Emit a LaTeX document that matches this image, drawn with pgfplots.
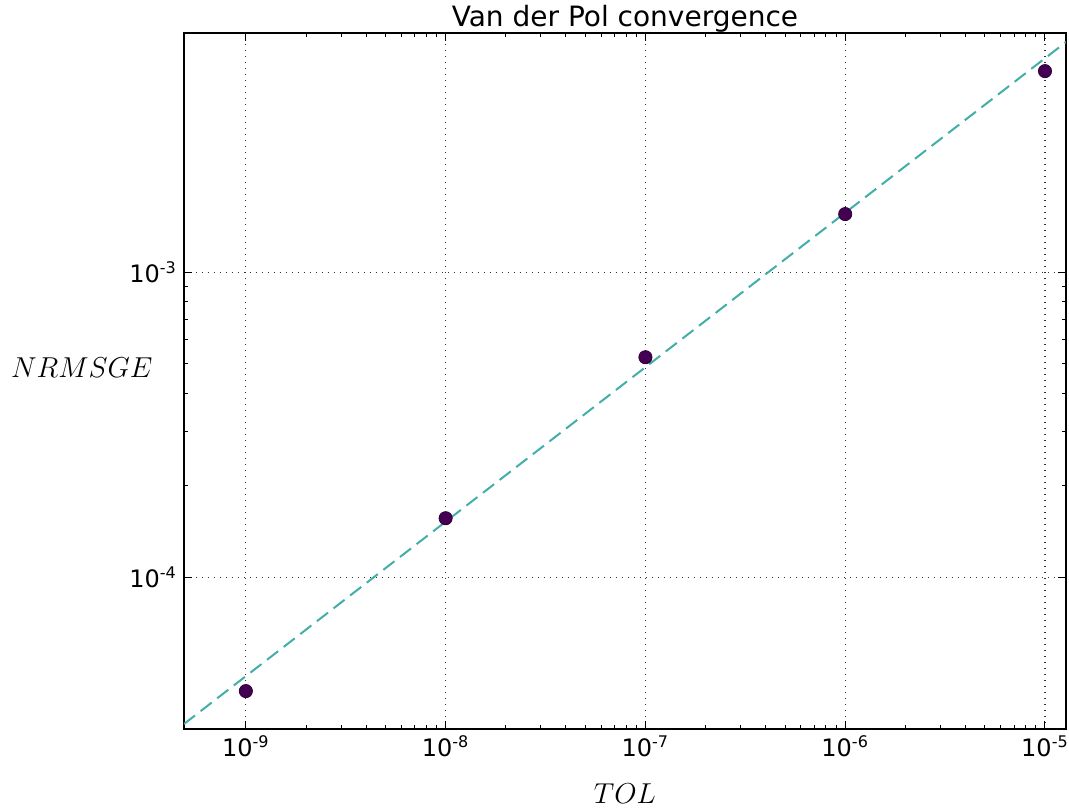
\documentclass[border=0pt]{standalone}
\usepackage{fontspec}
\setmainfont{DejaVu Sans}
\usepackage{pgfplots}
\pgfplotsset{compat=1.18}
\definecolor{pts}{RGB}{68,1,84}
\definecolor{fitc}{RGB}{66,174,168}
\begin{document}
\begin{tikzpicture}
\begin{axis}[
  scale only axis,
  width=441pt, height=348pt,
  xmode=log, ymode=log,
  xmin=4.9e-10, xmax=1.274e-5,
  ymin=3.177e-5, ymax=6.08e-3,
  axis line style={line width=1pt},
  tick align=inside,
  major tick length=4pt, minor tick length=2.2pt,
  every tick/.style={black, line width=0.5pt},
  xtick={1e-9,1e-8,1e-7,1e-6,1e-5},
  xticklabels={10\textsuperscript{-9},10\textsuperscript{-8},10\textsuperscript{-7},10\textsuperscript{-6},10\textsuperscript{-5}},
  ytick={1e-4,1e-3},
  yticklabels={10\textsuperscript{-4},10\textsuperscript{-3}},
  ticklabel style={font=\fontsize{12}{14}\selectfont},
  grid=major,
  major grid style={black!80, line width=0.6pt, dash pattern=on 0.6pt off 2.4pt},
  title={Van der Pol convergence},
  title style={font=\fontsize{14}{16}\selectfont, at={(axis description cs:0.5,1)}, anchor=base, inner sep=0pt, yshift=-2.5pt},
  xlabel={$TOL$},
  xlabel style={font=\fontsize{14.4}{17}\selectfont, at={(axis description cs:0.5,0)}, anchor=base, inner sep=0pt, yshift=-37pt},
  ylabel={$NRMSGE$},
  ylabel style={font=\fontsize{14.6}{17}\selectfont, rotate=-90, at={(axis description cs:0,0.5)}, anchor=base east, inner sep=0pt, xshift=-15.5pt, yshift=2pt},
  clip=true,
]
\addplot[fitc, line width=1pt, dash pattern=on 7pt off 3.5pt] coordinates {(4.9e-10,3.30e-5) (1.274e-5,5.68e-3)};
\addplot[only marks, mark=*, mark size=3.3pt, mark options={fill=pts, draw=pts!70!black, line width=0.4pt}] coordinates {
(1e-9,4.23e-5) (1e-8,1.56e-4) (1e-7,5.26e-4) (1e-6,1.55e-3) (1e-5,4.56e-3)};
\coordinate (A) at (rel axis cs:0,0);
\coordinate (B) at (rel axis cs:1,1);
\end{axis}
\pgfresetboundingbox
\path ([shift={(-92pt,-40pt)}]A) rectangle ([shift={(1.5pt,16.5pt)}]B);
\end{tikzpicture}
\end{document}
